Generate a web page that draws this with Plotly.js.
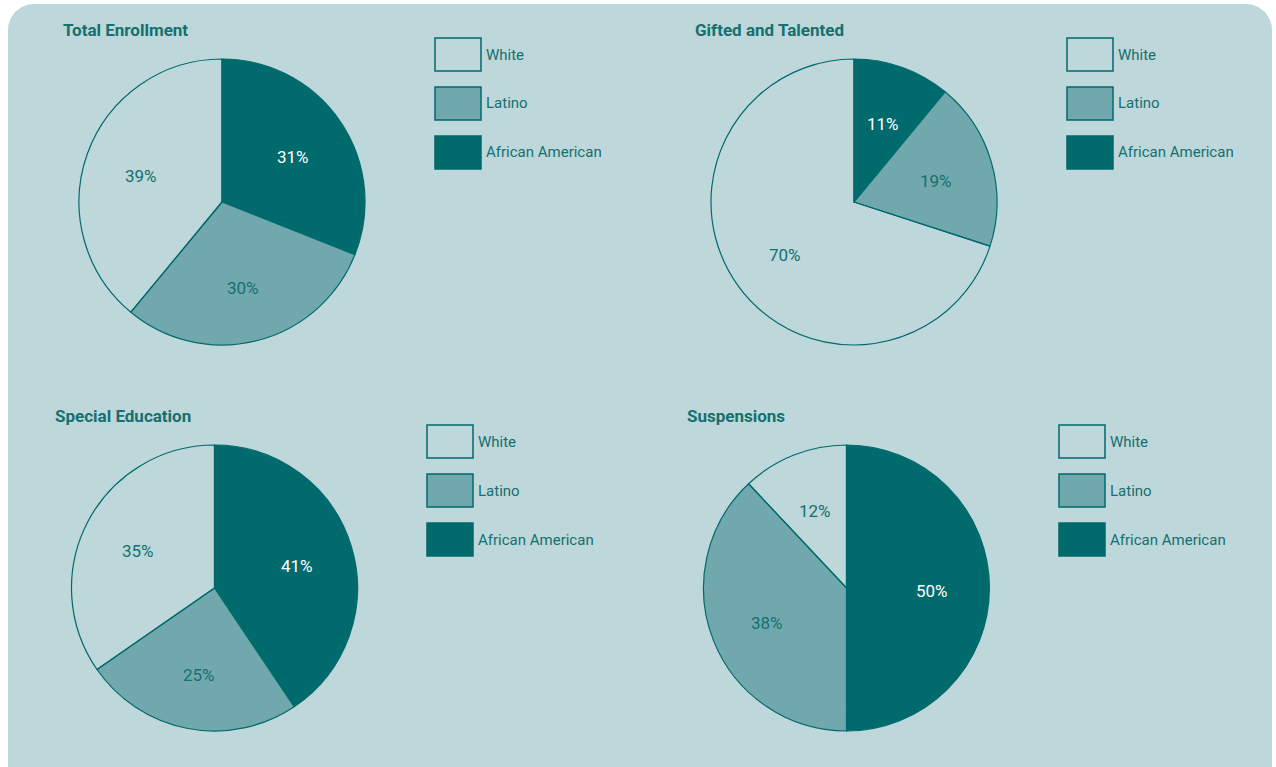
<!DOCTYPE html>
<html>
<head>
<meta charset="utf-8">
<script src="https://cdn.plot.ly/plotly-3.0.1.min.js"></script>
<style>
  html, body { margin: 0; padding: 0; background: #ffffff; width: 1276px; height: 767px; overflow: hidden; }
  #bg { position: absolute; left: 8px; top: 4px; width: 1264px; height: 790px; background: #bdd7da; border-radius: 26px; }
  #chart { position: absolute; left: 0; top: 0; width: 1276px; height: 767px; }
</style>
</head>
<body>
<div id="bg"></div>
<div id="chart"></div>
<script>
// ---- data ----
const categories = ['African American', 'Latino', 'White'];
const panelTitles = ['Total Enrollment', 'Gifted and Talented', 'Special Education', 'Suspensions'];
const totalEnrollment = [31, 30, 39];
const giftedTalented = [11, 19, 70];
const specialEducation = [41, 25, 35];
const suspensions = [50, 38, 12];
const legendLabels = ['White', 'Latino', 'African American'];

// ---- styling ----
const W = 1276, H = 767;
const DARK = '#006a6c';
const MID = '#70a8ad';
const TEXT = '#15706f';
const FONT = 'Roboto, "Liberation Sans", sans-serif';
const colorOf = { 'African American': DARK, 'Latino': MID, 'White': 'rgba(0,0,0,0)' };
const textColorOf = { 'African American': '#ffffff', 'Latino': TEXT, 'White': TEXT };

const seriesList = [totalEnrollment, giftedTalented, specialEducation, suspensions];
const panels = [
  { cx: 222, cy: 202, titleX: 63, titleY: 30, legX: 435, legY: 38 },
  { cx: 854, cy: 202, titleX: 695, titleY: 30, legX: 1067, legY: 38 },
  { cx: 214.5, cy: 588, titleX: 55, titleY: 416, legX: 427, legY: 425 },
  { cx: 846.5, cy: 588, titleX: 687, titleY: 416, legX: 1059, legY: 425 }
];
const R = 143;
const LABEL_R = 0.6;

const px = x => x / W;
const py = y => 1 - y / H;

const data = seriesList.map((vals, i) => {
  const p = panels[i];
  return {
    type: 'pie',
    labels: categories,
    values: vals,
    sort: false,
    direction: 'clockwise',
    rotation: 0,
    domain: { x: [px(p.cx - R), px(p.cx + R)], y: [py(p.cy + R), py(p.cy - R)] },
    marker: { colors: categories.map(c => colorOf[c]), line: { color: DARK, width: 1.2 } },
    textinfo: 'none',
    hoverinfo: 'label+value',
    showlegend: false
  };
});

const annotations = [];
const shapes = [];
panels.forEach((p, i) => {
  annotations.push({
    text: '<b>' + panelTitles[i] + '</b>',
    xref: 'paper', yref: 'paper', x: px(p.titleX - 2), y: py(p.titleY),
    xanchor: 'left', yanchor: 'middle', showarrow: false,
    font: { family: FONT, size: 17, color: TEXT }
  });
  // slice value labels placed at the mid-angle of each slice
  const vals = seriesList[i];
  const total = vals.reduce((a, b) => a + b, 0);
  let cum = 0;
  vals.forEach((v, k) => {
    const th = 2 * Math.PI * (cum + v / 2) / total;
    cum += v;
    const lx = p.cx + LABEL_R * R * Math.sin(th);
    const ly = p.cy - LABEL_R * R * Math.cos(th) + 3;
    annotations.push({
      text: v + '%', xref: 'paper', yref: 'paper', x: px(lx), y: py(ly),
      xanchor: 'center', yanchor: 'middle', showarrow: false,
      font: { family: FONT, size: 17, color: textColorOf[categories[k]] }
    });
  });
  legendLabels.forEach((lab, k) => {
    const y0 = p.legY + k * 49;
    shapes.push({
      type: 'rect', xref: 'paper', yref: 'paper',
      x0: px(p.legX), x1: px(p.legX + 46), y0: py(y0 + 33), y1: py(y0),
      fillcolor: colorOf[lab], line: { color: DARK, width: 1.5 }, layer: 'above'
    });
    annotations.push({
      text: lab, xref: 'paper', yref: 'paper', x: px(p.legX + 49), y: py(y0 + 16.5),
      xanchor: 'left', yanchor: 'middle', showarrow: false,
      font: { family: FONT, size: 15, color: TEXT }
    });
  });
});

const layout = {
  width: W, height: H,
  margin: { l: 0, r: 0, t: 0, b: 0 },
  paper_bgcolor: 'rgba(0,0,0,0)',
  plot_bgcolor: 'rgba(0,0,0,0)',
  showlegend: false,
  annotations: annotations,
  shapes: shapes,
  font: { family: FONT, color: TEXT }
};

Plotly.newPlot('chart', data, layout, { displayModeBar: false, staticPlot: true });
</script>
</body>
</html>
